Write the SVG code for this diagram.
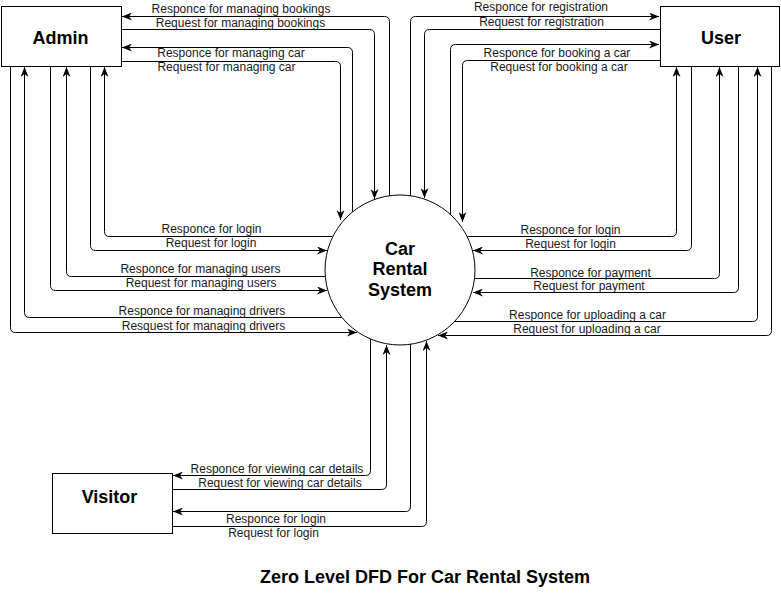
<svg xmlns="http://www.w3.org/2000/svg" width="781" height="601" viewBox="0 0 781 601">
<style>
.box{fill:#fff;stroke:#000;stroke-width:1}
.nl{font-family:"Liberation Sans",Arial,sans-serif;font-weight:bold;font-size:18px;text-anchor:middle;fill:#000}
.el{font-family:"Liberation Sans",Arial,sans-serif;font-size:12px;text-anchor:middle;fill:#1a1a1a}
.c path{fill:none;stroke:#000;stroke-width:1}
.a{marker-end:url(#ar)}
</style>
<defs>
<marker id="ar" viewBox="0 0 10 8" refX="10" refY="4" markerWidth="10" markerHeight="8" markerUnits="userSpaceOnUse" orient="auto">
<path d="M0,0 L10,4 L0,8 L3,4 z" fill="#000"/>
</marker>
</defs>
<rect width="781" height="601" fill="#fff"/>
<g id="connectors" class="c">
<path class="a" d="M389.5,196 V21.5 Q389.5,16.5 384.5,16.5 H122"/>
<path class="a" d="M121,29.5 H369.5 Q374.5,29.5 374.5,34.5 V199"/>
<path class="a" d="M352.5,212 V52.5 Q352.5,47.5 347.5,47.5 H122"/>
<path class="a" d="M121,61.5 H335.5 Q340.5,61.5 340.5,66.5 V220"/>
<path class="a" d="M332,236.5 H109.5 Q104.5,236.5 104.5,231.5 V67"/>
<path class="a" d="M90.5,66 V245.5 Q90.5,250.5 95.5,250.5 H327"/>
<path class="a" d="M325,276.5 H71.5 Q66.5,276.5 66.5,271.5 V67"/>
<path class="a" d="M50.5,66 V285.5 Q50.5,290.5 55.5,290.5 H327"/>
<path class="a" d="M342,317.5 H29.5 Q24.5,317.5 24.5,312.5 V67"/>
<path class="a" d="M10.5,66 V327.5 Q10.5,332.5 15.5,332.5 H357"/>
<path class="a" d="M410.5,196 V21.5 Q410.5,16.5 415.5,16.5 H659"/>
<path class="a" d="M660,29.5 H429.5 Q424.5,29.5 424.5,34.5 V198"/>
<path class="a" d="M450.5,215 V49.5 Q450.5,44.5 455.5,44.5 H659"/>
<path class="a" d="M660,60.5 H467.5 Q462.5,60.5 462.5,65.5 V222"/>
<path class="a" d="M467.5,236.5 H671.5 Q676.5,236.5 676.5,231.5 V67"/>
<path class="a" d="M691.5,66 V245.5 Q691.5,250.5 686.5,250.5 H473"/>
<path class="a" d="M475,278.5 H714.5 Q719.5,278.5 719.5,273.5 V67"/>
<path class="a" d="M738.5,66 V287.5 Q738.5,292.5 733.5,292.5 H473"/>
<path class="a" d="M454,321.5 H752.5 Q757.5,321.5 757.5,316.5 V67"/>
<path class="a" d="M771.5,66 V330.5 Q771.5,335.5 766.5,335.5 H438"/>
<path class="a" d="M370.5,339 V470.5 Q370.5,475.5 365.5,475.5 H173"/>
<path class="a" d="M172,489.5 H381.5 Q386.5,489.5 386.5,484.5 V345"/>
<path class="a" d="M410.5,344 V506.5 Q410.5,511.5 405.5,511.5 H173"/>
<path class="a" d="M172,526.5 H421.5 Q426.5,526.5 426.5,521.5 V341"/>
</g>
<g id="edge-labels">
<text class="el" x="241" y="12.5">Responce for managing bookings</text>
<text class="el" x="240.5" y="26.5">Request for managing bookings</text>
<text class="el" x="231" y="57">Responce for managing car</text>
<text class="el" x="226.5" y="71">Request for managing car</text>
<text class="el" x="211.5" y="233">Responce for login</text>
<text class="el" x="211" y="247">Request for login</text>
<text class="el" x="200.5" y="273">Responce for managing users</text>
<text class="el" x="201" y="287">Request for managing users</text>
<text class="el" x="202" y="315">Responce for managing drivers</text>
<text class="el" x="203.5" y="329.5">Resquest for managing drivers</text>
<text class="el" x="541" y="10.5">Responce for registration</text>
<text class="el" x="541.5" y="26">Request for registration</text>
<text class="el" x="557" y="56.5">Responce for booking a car</text>
<text class="el" x="559" y="71">Request for booking a car</text>
<text class="el" x="570.5" y="234">Responce for login</text>
<text class="el" x="570.5" y="248">Request for login</text>
<text class="el" x="590.5" y="276.5">Responce for payment</text>
<text class="el" x="589" y="289.5">Request for payment</text>
<text class="el" x="587.5" y="319">Responce for uploading a car</text>
<text class="el" x="587" y="333">Request for uploading a car</text>
<text class="el" x="277" y="472.5">Responce for viewing car details</text>
<text class="el" x="280" y="486.5">Request for viewing car details</text>
<text class="el" x="276" y="523">Responce for login</text>
<text class="el" x="273.5" y="537">Request for login</text>
</g>
<g id="admin">
<rect class="box" x="1.5" y="6.5" width="120" height="60"/>
<text class="nl" x="60.5" y="43.5">Admin</text>
</g>
<g id="user">
<rect class="box" x="660.5" y="6.5" width="119" height="60"/>
<text class="nl" x="721" y="43.5">User</text>
</g>
<g id="visitor">
<rect class="box" x="52.5" y="473.5" width="120" height="60"/>
<text class="nl" x="109.5" y="502.5">Visitor</text>
</g>
<g id="system">
<circle class="box" cx="400" cy="270" r="75"/>
<text class="nl" x="400" y="254.5">Car</text>
<text class="nl" x="400" y="275">Rental</text>
<text class="nl" x="400" y="295.5">System</text>
</g>
<g id="title">
<text class="nl" x="425" y="582.5">Zero Level DFD For Car Rental System</text>
</g>
</svg>
